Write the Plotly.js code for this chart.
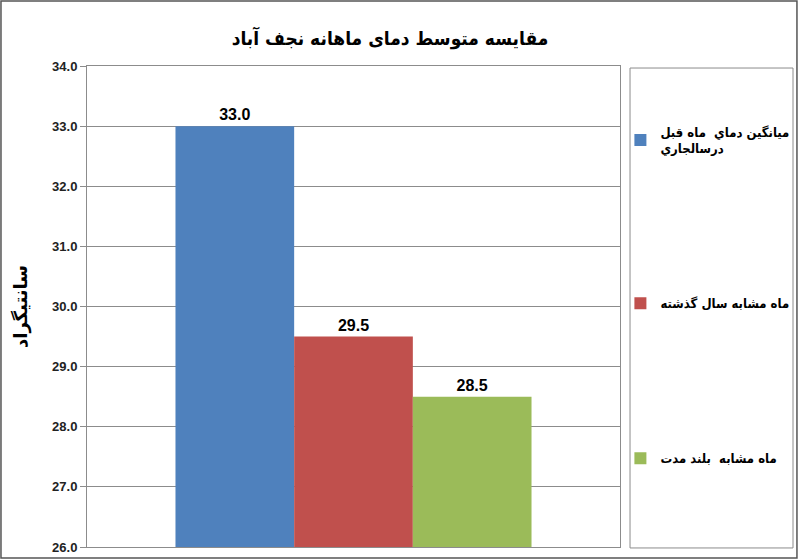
<!DOCTYPE html>
<html><head><meta charset="utf-8">
<script src="https://cdn.plot.ly/plotly-3.0.1.min.js"></script>
<style>body{margin:0;background:#fff}#c{width:800px;height:560px}</style>
</head><body><div id="c"></div>
<script>
const category = ['نجف آباد'];
const seriesNames = ['ميانگين دماي  ماه قبل<br>درسالجاري', 'ماه مشابه سال گذشته', 'ماه مشابه  بلند مدت'];
const seriesValues = [[33.0], [29.5], [28.5]];
const seriesColors = ['#4F81BD', '#C0504D', '#9BBB59'];
const tickVals = [26, 27, 28, 29, 30, 31, 32, 33, 34];

const FONT = 'Liberation Sans, Arial, DejaVu Sans, sans-serif';
const AFONT = 'DejaVu Sans Condensed, DejaVu Sans, sans-serif';
const traces = seriesNames.map((n, i) => ({
  type: 'bar', name: n, x: category, y: seriesValues[i],
  marker: {color: seriesColors[i], line: {width: 0}},
  legendgroup: 'g' + i,
  text: seriesValues[i].map(v => v.toFixed(1)), textposition: 'outside',
  textfont: {family: FONT, size: 16, color: '#000', weight: 'bold'},
  cliponaxis: false, hoverinfo: 'none'
}));

const layout = {
  width: 800, height: 560,
  margin: {l: 87, r: 180, t: 66, b: 13, autoexpand: false},
  paper_bgcolor: '#fff', plot_bgcolor: '#fff',
  font: {family: FONT, color: '#000'},
  title: {text: 'مقايسه متوسط دماى ماهانه نجف آباد', x: 0.4875, xref: 'container', y: 0.932, yanchor: 'middle',
          font: {family: AFONT, size: 19, weight: 'bold', color: '#000'}},
  barmode: 'group', bargap: 0.332, bargroupgap: 0,
  xaxis: {type: 'category', showticklabels: false, ticks: '', showgrid: false,
          showline: true, linecolor: '#8c8c8c', linewidth: 1, mirror: true, zeroline: false},
  yaxis: {range: [26, 34], tickvals: tickVals, tickformat: '.1f', ticks: 'outside', ticklen: 6,
          tickcolor: '#8c8c8c', showgrid: true, gridcolor: '#8c8c8c', gridwidth: 1,
          showline: true, linecolor: '#8c8c8c', linewidth: 1, mirror: true, zeroline: false,
          tickfont: {family: FONT, size: 13, weight: 'bold', color: '#222'},
          title: {text: 'سانتیگراد', standoff: 19, font: {family: FONT, size: 18, weight: 'bold', color: '#000'}}},
  showlegend: true,
  legend: {xref: 'container', x: 0.7755, xanchor: 'left', yref: 'paper', y: 0.895, yanchor: 'top', traceorder: 'grouped',
           tracegroupgap: 135, bgcolor: 'rgba(0,0,0,0)', borderwidth: 0, maxheight: 1,
           font: {family: AFONT, size: 13, weight: 'bold', color: '#000'}, itemwidth: 30},
  shapes: [
    {type: 'rect', xref: 'paper', yref: 'paper', x0: 1.0188, x1: 1.3246, y0: -0.002, y1: 0.9958,
     line: {color: '#8c8c8c', width: 1}, fillcolor: 'rgba(0,0,0,0)'},
    {type: 'rect', xref: 'paper', yref: 'paper', x0: -0.1614, x1: 1.332, y0: -0.0229, y1: 1.135,
     line: {color: '#555', width: 1.5}, fillcolor: 'rgba(0,0,0,0)'}
  ]
};
Plotly.newPlot('c', traces, layout, {displayModeBar: false, staticPlot: true});
</script></body></html>
